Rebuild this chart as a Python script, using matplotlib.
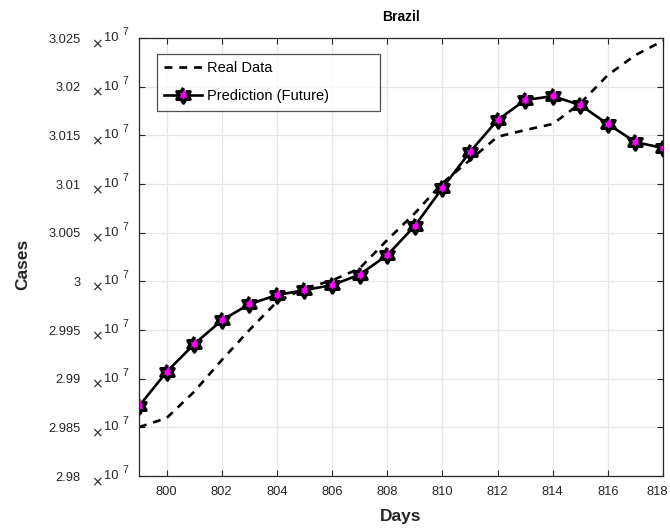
import matplotlib
matplotlib.use("Agg")
import matplotlib.pyplot as plt
from matplotlib.markers import MarkerStyle
from matplotlib.transforms import ScaledTranslation
import numpy as np

plt.rcParams['font.family'] = ['Liberation Sans', 'DejaVu Sans']

# days and cases (in units of 1e7)
DAYS = np.arange(799, 819)
REAL = [2.98503, 2.98596, 2.98867, 2.99192, 2.99500, 2.99791, 2.99928, 3.00010,
        3.00134, 3.00425, 3.00700, 3.01010, 3.01247, 3.01486, 3.01555, 3.01617,
        3.01829, 3.02120, 3.02325, 3.02472]
PRED = [2.98720, 2.99070, 2.99356, 2.99600, 2.99767, 2.99860, 2.99911, 2.99962,
        3.00070, 3.00270, 3.00570, 3.00959, 3.01329, 3.01658, 3.01863, 3.01904,
        3.01812, 3.01617, 3.01432, 3.01370]
YTICKS = [2.98, 2.985, 2.99, 2.995, 3.0, 3.005, 3.01, 3.015, 3.02, 3.025]
XTICKS = [800, 802, 804, 806, 808, 810, 812, 814, 816, 818]

TXT = '#262626'

# hexagram marker (two overlapping triangles)
ang = np.deg2rad(np.arange(12) * 30 + 90)
rad = np.where(np.arange(12) % 2 == 0, 1.0, 1 / np.sqrt(3))
hexagram = MarkerStyle(list(zip(rad * np.cos(ang), rad * np.sin(ang))), joinstyle='miter')

fig = plt.figure(figsize=(6.7, 5.29), dpi=100)
ax = fig.add_axes([0.2075, 0.100, 0.782, 0.828])

ax.plot(DAYS, REAL, color='black', lw=1.9, linestyle=(0, (3, 2.6)), label='Real Data')
ax.plot(DAYS, PRED, color='black', lw=1.9, marker=hexagram, markersize=11,
        markerfacecolor='magenta', markeredgecolor='black', markeredgewidth=2.4,
        label='Prediction (Future)')

ax.set_xlim(799, 818)
ax.set_ylim(2.98, 3.025)
ax.set_xticks(XTICKS)
ax.set_yticks(YTICKS)
ax.set_yticklabels([f'{v:g}' for v in YTICKS])
ax.tick_params(direction='in', top=True, right=True, length=4, width=0.8,
               labelsize=9.3, colors=TXT, labelcolor=TXT)
ax.tick_params(axis='y', pad=42)
ax.tick_params(axis='x', pad=7)
ax.grid(True, color='#e6e6e6', lw=0.9)
ax.set_axisbelow(True)
for s in ax.spines.values():
    s.set_color(TXT)
    s.set_linewidth(0.9)

# last x label sits a little left of its tick, as in the original
lbl = ax.get_xticklabels()[-1]
lbl.set_transform(lbl.get_transform() + ScaledTranslation(-4 / 72, 0, fig.dpi_scale_trans))

# MATLAB-style exponent beside every y tick label
for v in YTICKS:
    ax.annotate(r'$\times$', xy=(0, v), xycoords=('axes fraction', 'data'),
                xytext=(-30, -4.3), textcoords='offset points', fontsize=10,
                color=TXT, ha='center', va='center')
    ax.annotate('10', xy=(0, v), xycoords=('axes fraction', 'data'),
                xytext=(-20, 0), textcoords='offset points', fontsize=9.3,
                color=TXT, ha='center', va='center')
    ax.annotate('7', xy=(0, v), xycoords=('axes fraction', 'data'),
                xytext=(-10, 4.3), textcoords='offset points', fontsize=7.5,
                color=TXT, ha='center', va='center')

ax.set_title('Brazil', fontsize=10, fontweight='bold', color='black', pad=12)
ax.set_xlabel('Days', fontsize=12.5, fontweight='bold', color=TXT, labelpad=8)
ax.set_ylabel('Cases', fontsize=12.5, fontweight='bold', color=TXT)
ax.yaxis.set_label_coords(-0.208, 0.484)

leg = ax.legend(loc='upper left', bbox_to_anchor=(0.0344, 0.0, 0.4256, 0.9635),
                mode='expand', borderaxespad=0, fontsize=10.5,
                handlelength=2.6, handletextpad=0.3, frameon=True, fancybox=False,
                borderpad=0.5, labelspacing=0.95)
leg.get_frame().set_edgecolor(TXT)
leg.get_frame().set_linewidth(0.9)

fig.savefig('out.png', dpi=100)
